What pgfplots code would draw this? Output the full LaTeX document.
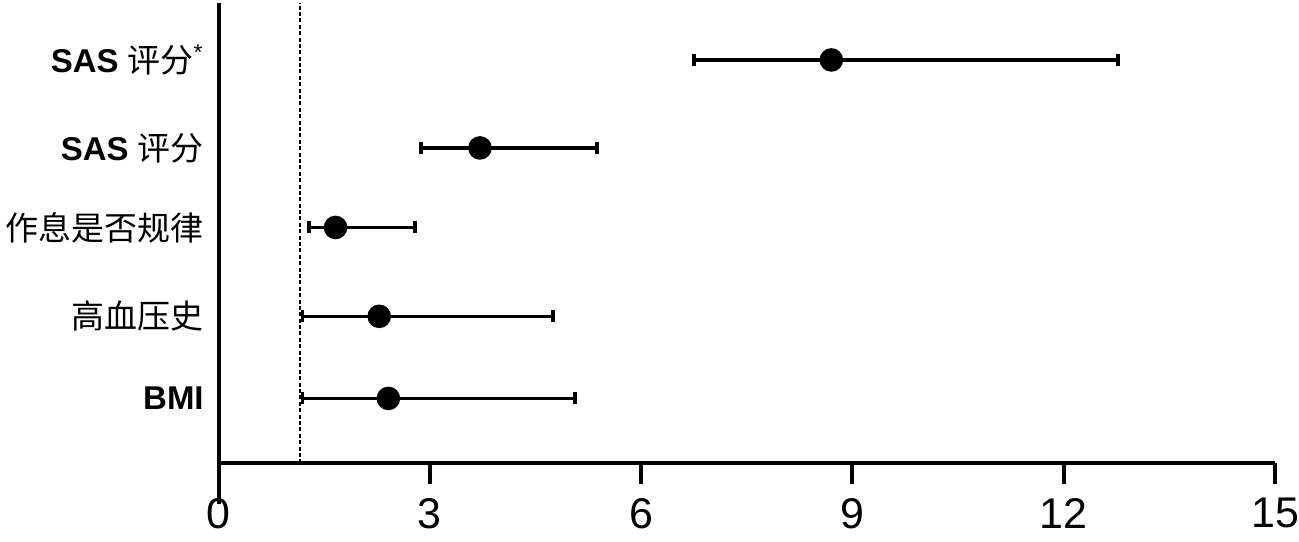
\documentclass[border=0pt]{standalone}
\usepackage{fontspec}
\setmainfont{Liberation Sans}
\newfontfamily\cjk{Noto Sans CJK SC}
\usepackage{pgfplots}
\pgfplotsset{compat=1.18}

\begin{document}
\begin{tikzpicture}
\begin{axis}[
  scale only axis, width=529pt, height=230.5pt,
  xmin=0, xmax=15, ymin=0.233, ymax=5.673,
  xtick={0,3,...,15},
  ytick={1,1.97,3.02,3.96,5},
  yticklabels={\textbf{BMI},{\cjk 高血压史},{\cjk 作息是否规律},{\textbf{SAS} {\cjk 评分}},{\textbf{SAS} {\cjk 评分}\textsuperscript{*}}},
  axis x line*=bottom, axis y line*=left,
  axis line style={line width=2pt, -},
  tick align=outside,
  x tick style={line width=2pt, black}, major tick length=10.5pt,
  y tick style={draw=none},
  xticklabel style={font=\fontsize{21.5}{24}\selectfont, yshift=-3.5pt},
  yticklabel style={font=\fontsize{16.5}{18}\selectfont, xshift=6.5pt},
  /pgf/number format/assume math mode=true,
  clip=false,
]
  % reference line
  \addplot[black, line width=0.9pt, dash pattern=on 2pt off 1.2pt] coordinates {(1.15,0.233) (1.15,5.673)};
  % odds ratios with 95% CI
  \addplot[black, only marks, mark=*, mark size=5pt, line width=1.8pt,
    error bars/.cd, x dir=both, x explicit,
    error bar style={line width=1.8pt},
    error mark=|,
    error mark options={line width=1.8pt, mark size=3pt}]
  coordinates {
    (8.70,5) += (4.07,0) -= (1.95,0)
    (3.71,3.96) += (1.66,0) -= (0.84,0)
    (1.66,3.02) += (1.13,0) -= (0.38,0)
    (2.28,1.97) += (2.47,0) -= (1.09,0)
    (2.41,1) += (2.65,0) -= (1.22,0)
  };
  \draw[line width=2pt] (rel axis cs:0,0) -- ++(0,-10.5pt);
\end{axis}
\pgfresetboundingbox
\useasboundingbox (-109.5pt,-39pt) rectangle (541pt,232pt);
\end{tikzpicture}
\end{document}
